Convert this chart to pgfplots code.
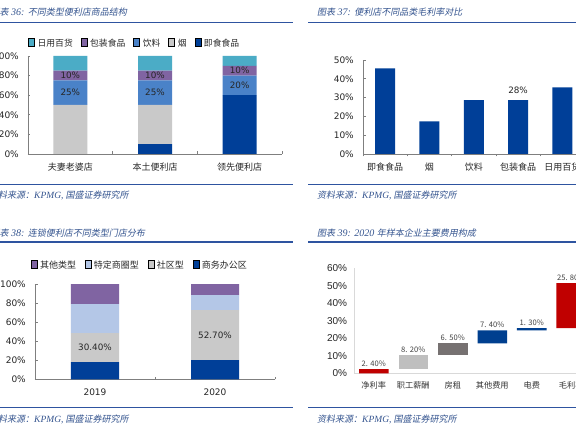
\documentclass[border=0pt]{standalone}
\usepackage{fontspec}
\setmainfont{DejaVu Sans}
\newfontfamily\cjk{Noto Sans CJK SC}
\newfontfamily\cjksl[FakeSlant=0.2]{Noto Sans CJK SC}
\newfontfamily\serit{Liberation Serif}
\newfontfamily\lib{Liberation Sans}
\usepackage{pgfplots}
\pgfplotsset{compat=1.18}
\newcommand\fs[1]{\fontsize{#1}{#1}\selectfont}
\definecolor{cDark}{HTML}{003F98}
\definecolor{cGray}{HTML}{C9C9C9}
\definecolor{cBlue}{HTML}{4A82C8}
\definecolor{cPurple}{HTML}{8064A2}
\definecolor{cTeal}{HTML}{4BACC6}
\definecolor{cLight}{HTML}{B4C7E7}
\definecolor{cRed}{HTML}{C00000}
\definecolor{cLGray}{HTML}{BFBFBF}
\definecolor{cDGray}{HTML}{767171}
\definecolor{cNavy}{HTML}{003F8F}
\definecolor{axgray}{HTML}{7F7F7F}
\definecolor{axlight}{HTML}{D9D9D9}
\definecolor{txt}{HTML}{262626}
\definecolor{ttl}{HTML}{34548F}
\definecolor{rule}{HTML}{2E54A0}
\pgfplotsset{
 panel/.style={
  scale only axis, anchor=south west,
  axis x line*=bottom, axis y line*=left,
  axis line style={draw=axgray, line width=0.6pt},
  tick align=inside, major tick length=2.5pt,
  every tick/.style={draw=axgray, line width=0.6pt},
  ymin=0,
  /pgf/number format/assume math mode=true,
  tick label style={text=txt},
  yticklabel style={font=\fs{9}, inner sep=0pt, anchor=east, xshift=-9pt},
  xticklabel style={font=\cjk\fs{9}, inner sep=0pt, anchor=center, yshift=-13pt},
  legend style={draw=none, fill=none, inner sep=0pt, legend columns=-1,
     font=\cjk\fs{8.8}, text=txt, anchor=west, at={(0,1)},
     nodes={inner sep=0pt},
     /tikz/every odd column/.append style={column sep=3pt},
     /tikz/every even column/.append style={column sep=8pt}},
  legend image code/.code={\fill[##1,draw=none] (0pt,-2.3pt) rectangle (4.6pt,2.3pt);},
 },
 over/.style={scale only axis, anchor=south west, hide axis, clip=false, ymin=0},
}
\begin{document}
\begin{tikzpicture}
\useasboundingbox (0pt,0pt) rectangle (576pt,432pt);
\begin{scope}
\clip (0pt,0pt) rectangle (576pt,432pt);
\fill[white] (0pt,0pt) rectangle (576pt,432pt);
% rules
\draw[rule, line width=1.3pt] (0pt,409.3pt) -- (293pt,409.3pt);
\draw[rule, line width=1.3pt] (308pt,409.3pt) -- (576pt,409.3pt);
\draw[rule, line width=0.9pt] (0pt,248pt) -- (293pt,248pt);
\draw[rule, line width=0.9pt] (308pt,248pt) -- (576pt,248pt);
\draw[rule, line width=1.3pt] (0pt,190pt) -- (293pt,190pt);
\draw[rule, line width=1.3pt] (308pt,190pt) -- (576pt,190pt);
\draw[rule, line width=0.9pt] (0pt,24.3pt) -- (293pt,24.3pt);
\draw[rule, line width=0.9pt] (308pt,24.3pt) -- (576pt,24.3pt);
% titles
\node[anchor=west, inner sep=0pt, text=ttl] at (-9.5pt,419.7pt) {\cjksl\fs{9}图表{\serit\itshape\fs{10} 36: }不同类型便利店商品结构};
\node[anchor=west, inner sep=0pt, text=ttl] at (317pt,419.7pt) {\cjksl\fs{9}图表{\serit\itshape\fs{10} 37: }便利店不同品类毛利率对比};
\node[anchor=west, inner sep=0pt, text=ttl] at (-9.5pt,199.3pt) {\cjksl\fs{9}图表{\serit\itshape\fs{10} 38: }连锁便利店不同类型门店分布};
\node[anchor=west, inner sep=0pt, text=ttl] at (317pt,199.3pt) {\cjksl\fs{9}图表{\serit\itshape\fs{10} 39: 2020 }年样本企业主要费用构成};
% sources
\node[anchor=west, inner sep=0pt, text=ttl] at (-11pt,237pt) {\cjksl\fs{9}资料来源：{\serit\itshape\fs{9.5}KPMG,} 国盛证券研究所};
\node[anchor=west, inner sep=0pt, text=ttl] at (317pt,237pt) {\cjksl\fs{9}资料来源：{\serit\itshape\fs{9.5}KPMG,} 国盛证券研究所};
\node[anchor=west, inner sep=0pt, text=ttl] at (-11pt,13pt) {\cjksl\fs{9}资料来源：{\serit\itshape\fs{9.5}KPMG,} 国盛证券研究所};
\node[anchor=west, inner sep=0pt, text=ttl] at (317pt,13pt) {\cjksl\fs{9}资料来源：{\serit\itshape\fs{9.5}KPMG,} 国盛证券研究所};

% ---------- Panel 1 ----------
\begin{axis}[panel, at={(28pt,278pt)}, width=254pt, height=98pt,
  xmin=-0.5, xmax=2.5, ymax=100, ybar stacked, bar width=34pt,
  ytick={0,20,40,60,80,100}, yticklabels={0\%,20\%,40\%,60\%,80\%,100\%},
  xtick={-0.5,0.5,1.5,2.5}, xticklabels={,,,},
  extra x ticks={0,1,2}, extra x tick labels={夫妻老婆店,本土便利店,领先便利店},
  extra x tick style={major tick length=0pt},
  reverse legend, legend style={yshift=13pt}]
\addplot[fill=cDark, draw=none] coordinates {(0,0) (1,10) (2,60)};
\addplot[fill=cGray, draw=none] coordinates {(0,50) (1,40) (2,0)};
\addplot[fill=cBlue, draw=none] coordinates {(0,25) (1,25) (2,20)};
\addplot[fill=cPurple, draw=none] coordinates {(0,10) (1,10) (2,10)};
\addplot[fill=cTeal, draw=none] coordinates {(0,15) (1,15) (2,10)};
\legend{即食食品,烟,饮料,包装食品,日用百货}
\end{axis}
\begin{axis}[over, at={(28pt,278pt)}, width=254pt, height=98pt, xmin=-0.5, xmax=2.5, ymax=100]
\node[font=\fs{8.8}, text=txt] at (axis cs:0,80) {10\%};
\node[font=\fs{8.8}, text=txt] at (axis cs:0,62.5) {25\%};
\node[font=\fs{8.8}, text=txt] at (axis cs:1,80) {10\%};
\node[font=\fs{8.8}, text=txt] at (axis cs:1,62.5) {25\%};
\node[font=\fs{8.8}, text=txt] at (axis cs:2,85) {10\%};
\node[font=\fs{8.8}, text=txt] at (axis cs:2,70) {20\%};
\end{axis}

% ---------- Panel 2 ----------
\begin{axis}[panel, at={(363pt,278pt)}, width=221.5pt, height=94pt,
  xmin=-0.5, xmax=4.5, ymax=50, ybar, bar width=20pt,
  ytick={0,10,20,30,40,50}, yticklabels={0\%,10\%,20\%,30\%,40\%,50\%},
  xtick={-0.5,0.5,1.5,2.5,3.5,4.5}, xticklabels={,,,,,},
  extra x ticks={0,1,2,3,4}, extra x tick labels={即食食品,烟,饮料,包装食品,日用百货},
  extra x tick style={major tick length=0pt}]
\addplot[fill=cDark, draw=none] coordinates {(0,45.5) (1,17.3) (2,28.6) (3,28.6) (4,35.5)};
\node[font=\fs{8.8}, text=txt] at (axis cs:3,28.6) [yshift=9.5pt] {28\%};
\end{axis}

% ---------- Panel 3 ----------
\begin{axis}[panel, at={(35pt,52.7pt)}, width=240pt, height=95.3pt,
  xmin=-0.5, xmax=1.5, ymax=100, ybar stacked, bar width=48pt,
  ytick={0,20,40,60,80,100}, yticklabels={0\%,20\%,40\%,60\%,80\%,100\%},
  xtick={-0.5,0.5,1.5}, xticklabels={,,},
  extra x ticks={0,1}, extra x tick labels={2019,2020},
  extra x tick style={major tick length=0pt, xticklabel style={font=\fs{9}}},
  reverse legend, legend style={xshift=-4pt, yshift=19pt, font=\cjk\fs{9},
     /tikz/every odd column/.append style={column sep=2.5pt},
     /tikz/every even column/.append style={column sep=9pt}}]
\addplot[fill=cDark, draw=none] coordinates {(0,18) (1,20)};
\addplot[fill=cGray, draw=none] coordinates {(0,30.4) (1,52.7)};
\addplot[fill=cLight, draw=none] coordinates {(0,30.6) (1,15.5)};
\addplot[fill=cPurple, draw=none] coordinates {(0,21) (1,11.8)};
\legend{商务办公区,社区型,特定商圈型,其他类型}
\end{axis}
\begin{axis}[over, at={(35pt,52.7pt)}, width=240pt, height=95.3pt, xmin=-0.5, xmax=1.5, ymax=100]
\node[font=\fs{8.8}, text=txt] at (axis cs:0,33.2) {30.40\%};
\node[font=\fs{8.8}, text=txt] at (axis cs:1,46.35) {52.70\%};
\end{axis}

% ---------- Panel 4 ----------
\begin{axis}[panel, at={(354pt,58.7pt)}, width=237pt, height=105pt,
  xmin=-0.5, xmax=5.5, ymax=60, ybar stacked, bar width=29.5pt,
  axis line style={draw=axlight, line width=0.8pt}, major tick length=0pt,
  ytick={0,10,20,30,40,50,60}, yticklabels={0\%,10\%,20\%,30\%,40\%,50\%,60\%},
  yticklabel style={font=\lib\fs{10}, text=txt, xshift=2.3pt},
  xtick={0,1,2,3,4,5}, xticklabels={净利率,职工薪酬,房租,其他费用,电费,毛利率},
  xticklabel style={font=\cjk\fs{8.2}, text=black!80, yshift=0.6pt}]
\addplot[fill=none, draw=none] coordinates {(0,0) (1,2.4) (2,10.6) (3,17.1) (4,24.5) (5,25.8)};
\addplot[fill=cRed, draw=none] coordinates {(0,2.4) (1,0) (2,0) (3,0) (4,0) (5,25.8)};
\addplot[fill=cLGray, draw=none] coordinates {(0,0) (1,8.2) (2,0) (3,0) (4,0) (5,0)};
\addplot[fill=cDGray, draw=none] coordinates {(0,0) (1,0) (2,6.5) (3,0) (4,0) (5,0)};
\addplot[fill=cNavy, draw=none] coordinates {(0,0) (1,0) (2,0) (3,7.4) (4,1.3) (5,0)};
\node[font=\cjk\fs{7.6}, text=black!75] at (axis cs:0,2.4) [yshift=5.4pt] {2. 40\%};
\node[font=\cjk\fs{7.6}, text=black!75] at (axis cs:1,10.6) [yshift=5.4pt] {8. 20\%};
\node[font=\cjk\fs{7.6}, text=black!75] at (axis cs:2,17.1) [yshift=5.4pt] {6. 50\%};
\node[font=\cjk\fs{7.6}, text=black!75] at (axis cs:3,24.5) [yshift=5.4pt] {7. 40\%};
\node[font=\cjk\fs{7.6}, text=black!75] at (axis cs:4,25.8) [yshift=5.4pt] {1. 30\%};
\node[font=\cjk\fs{7.6}, text=black!75] at (axis cs:5,51.6) [yshift=5.4pt] {25. 80\%};
\end{axis}
\end{scope}
\end{tikzpicture}
\end{document}
